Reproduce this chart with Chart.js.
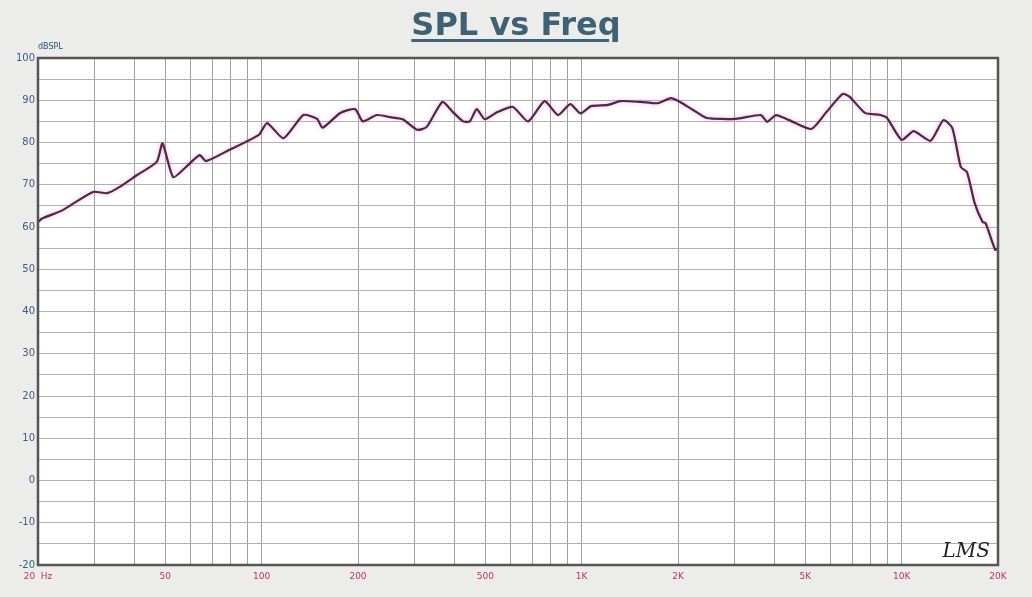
<!DOCTYPE html>
<html>
<head>
<meta charset="utf-8">
<script src="https://cdn.jsdelivr.net/npm/chart.js@4.4.1/dist/chart.umd.min.js"></script>
<style>
  html, body { margin: 0; padding: 0; background: #ececea; }
  #wrap { position: relative; width: 1032px; height: 597px; }
  #title {
    position: absolute; left: 0; width: 1032px; top: 5px; text-align: center;
    font: bold 32px "DejaVu Sans", Verdana, sans-serif; color: #3f6176;
    text-decoration: underline; text-decoration-thickness: 3px; text-underline-offset: 4px;
  }
  canvas { position: absolute; left: 0; top: 0; }
</style>
</head>
<body>
<div id="wrap">
  <canvas id="splChart" width="1032" height="597"></canvas>
  <div id="title">SPL vs Freq</div>
</div>
<script>
/* ======================
   DATA
====================== */

const freqs = [20, 20.6, 23.9, 29.7, 32.9, 36, 40.8, 47, 49, 52.9, 58, 64, 67, 79, 98, 104, 117, 135, 149, 155, 176, 196,
  207, 229, 252, 276, 306, 328, 367, 396, 426, 447, 470, 498, 545, 610, 680, 766, 843, 921, 991, 1070, 1210, 1320,
  1530, 1730, 1900, 2030, 2230, 2460, 3030, 3630, 3800, 4050, 4450, 5220, 5820, 6540, 6880, 7680, 8580, 9000,
  10000, 10900, 12300, 13500, 14400, 15300, 16000, 16900, 17900, 18300, 19600, 20000];

const spl = [61.2, 62, 64, 68.3, 68, 69.5, 72.3, 75.4, 79.8, 71.8, 74.2, 77, 75.6, 78.2, 81.8, 84.6, 81, 86.5, 85.6, 83.5, 87, 87.9,
  85, 86.5, 86, 85.5, 83, 83.7, 89.6, 87.2, 85, 85, 87.9, 85.5, 87.2, 88.4, 85, 89.8, 86.5, 89.1, 86.9, 88.6, 88.9, 89.8,
  89.6, 89.3, 90.5, 89.6, 87.7, 85.8, 85.6, 86.5, 84.9, 86.5, 85.3, 83.2, 87.2, 91.5, 90.8, 87, 86.5, 85.8,
  80.6, 82.7, 80.4, 85.3, 83.4, 74.2, 73, 65.7, 61.2, 60.9, 54.6, 55];

const xLabels = { 20: "20  Hz", 50: "50", 100: "100", 200: "200", 500: "500",
  1000: "1K", 2000: "2K", 5000: "5K", 10000: "10K", 20000: "20K" };

const yMin = -20;
const yMax = 100;

/* ======================
   PLUGINS
====================== */

const frameBox = {
  id: "frameBox",
  afterDraw(chart) {
    const { ctx, chartArea: a } = chart;
    ctx.save();
    ctx.strokeStyle = "#555";
    ctx.lineWidth = 2.5;
    ctx.strokeRect(a.left, a.top, a.right - a.left, a.bottom - a.top);
    ctx.fillStyle = "#2d4f7a";
    ctx.font = "8px 'DejaVu Sans', sans-serif";
    ctx.textAlign = "left";
    ctx.fillText("dBSPL", 38, 49);
    ctx.fillStyle = "#222";
    ctx.font = "italic 20px 'DejaVu Serif', serif";
    ctx.textAlign = "right";
    ctx.fillText("LMS", a.right - 8, a.bottom - 8);
    ctx.restore();
  }
};

const plotBg = {
  id: "plotBg",
  beforeDraw(chart) {
    const { ctx, chartArea: a } = chart;
    ctx.save();
    ctx.fillStyle = "#ffffff";
    ctx.fillRect(a.left, a.top, a.right - a.left, a.bottom - a.top);
    ctx.restore();
  }
};

// soft pink halo around the trace
const glow = {
  id: "glow",
  beforeDatasetsDraw(chart) {
    chart.ctx.save();
    chart.ctx.shadowColor = "rgba(225, 140, 205, 0.7)";
    chart.ctx.shadowBlur = 4;
  },
  afterDatasetsDraw(chart) {
    chart.ctx.restore();
  }
};

/* ======================
   SPL CHART
====================== */

const ctx1 = document.getElementById("splChart").getContext("2d");

new Chart(ctx1, {
  type: "line",
  data: {
    datasets: [{
      data: freqs.map((f, i) => ({ x: f, y: spl[i] })),
      borderColor: "#52264a",
      borderWidth: 2.2,
      pointRadius: 0,
      tension: 0.2
    }]
  },
  options: {
    responsive: false,
    animation: false,
    layout: { padding: { top: 58, right: 34, left: 0, bottom: 0 } },
    plugins: {
      legend: { display: false },
      tooltip: { enabled: false }
    },
    scales: {
      x: {
        type: "logarithmic",
        min: 20,
        max: 20000,
        afterBuildTicks(scale) {
          const ticks = [];
          [10, 100, 1000, 10000].forEach(d => {
            for (let m = 1; m <= 9; m++) {
              const v = d * m;
              if (v >= 20 && v <= 20000) ticks.push({ value: v });
            }
          });
          scale.ticks = ticks;
        },
        afterFit(scale) { scale.height = 32; },
        ticks: {
          autoSkip: false,
          maxRotation: 0,
          color: "#c0306a",
          font: { size: 9, family: "'DejaVu Sans', sans-serif" },
          padding: 6,
          callback: v => xLabels[v] || ""
        },
        grid: {
          color: "#a0a0a0",
          lineWidth: 1,
          drawTicks: false
        },
        border: { display: false }
      },
      y: {
        min: yMin,
        max: yMax,
        afterFit(scale) { scale.width = 38; },
        ticks: {
          stepSize: 5,
          color: "#3c5c86",
          font: { size: 10, family: "'DejaVu Sans', sans-serif" },
          padding: 3,
          callback: v => (v % 10 === 0 ? v : "")
        },
        grid: {
          color: "#b0b0b0",
          lineWidth: 1,
          drawTicks: false
        },
        border: { display: false }
      }
    }
  },
  plugins: [plotBg, glow, frameBox]
});
</script>
</body>
</html>
